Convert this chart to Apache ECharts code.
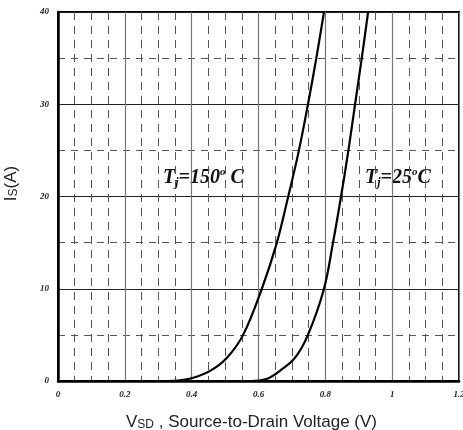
<!DOCTYPE html>
<html>
<head>
<meta charset="utf-8">
<script src="https://cdn.jsdelivr.net/npm/echarts@6/dist/echarts.min.js"></script>
<style>
  html, body { margin: 0; padding: 0; background: #fff; }
  #chart { width: 463px; height: 430px; }
</style>
</head>
<body>
<div id="chart"></div>
<script>
// Is vs Vsd
const tj150 = [
  [0.33, 0], [0.36, 0.05], [0.40, 0.3], [0.455, 1.1], [0.505, 2.5], [0.554, 5],
  [0.61, 10], [0.655, 15], [0.689, 20], [0.721, 25], [0.748, 30], [0.773, 35], [0.796, 40]
];
const tj25 = [
  [0.58, 0], [0.60, 0.05], [0.63, 0.3], [0.664, 1.1], [0.709, 2.5], [0.748, 5],
  [0.796, 10], [0.823, 15], [0.847, 20], [0.869, 25], [0.889, 30], [0.909, 35], [0.928, 40]
];
const xTicks = ['0', '0.2', '0.4', '0.6', '0.8', '1', '1.2'];
const yTicks = ['0', '10', '20', '30', '40'];

const chart = echarts.init(document.getElementById('chart'));

const tickFont = {
  fontFamily: 'Liberation Serif',
  fontStyle: 'italic',
  fontWeight: 'bold',
  fontSize: 9,
  color: '#222'
};

const labelRich = {
  b: { fontFamily: 'Liberation Serif', fontStyle: 'italic', fontWeight: 'bold', fontSize: 20, fill: '#111' },
  sub: { fontFamily: 'Liberation Serif', fontStyle: 'italic', fontWeight: 'bold', fontSize: 12, fill: '#111', padding: [10, 0, 0, 0] },
  sup: { fontFamily: 'Liberation Serif', fontStyle: 'italic', fontWeight: 'bold', fontSize: 11, fill: '#111', padding: [0, 0, 10, 0] }
};

const option = {
  backgroundColor: '#fff',
  animation: false,
  grid: {
    left: 58,
    top: 12,
    right: 4,
    bottom: 49,
    containLabel: false,
    outerBoundsMode: 'none',
    show: true,
    borderColor: '#000',
    borderWidth: 2
  },
  xAxis: {
    type: 'value',
    min: 0,
    max: 1.2,
    interval: 0.2,
    name: '{v|V}{s|SD}{v| , Source-to-Drain Voltage (V)}',
    nameLocation: 'middle',
    nameGap: 33,
    nameTextStyle: {
      padding: [0, 14, 0, 0],
      rich: {
        v: { fontFamily: 'Liberation Sans', fontSize: 17, color: '#222' },
        s: { fontFamily: 'Liberation Sans', fontSize: 12, color: '#222', padding: [4, 0, 0, 0] }
      }
    },
    axisLine: { show: true, onZero: false, lineStyle: { color: '#000', width: 2.5 } },
    axisTick: { show: false },
    axisLabel: Object.assign({ margin: 9, formatter: (v) => xTicks[Math.round(v / 0.2)] }, tickFont),
    splitLine: { show: true, lineStyle: { color: '#777', width: 1.2 } },
    minorTick: { show: false, splitNumber: 4 },
    minorSplitLine: { show: true, lineStyle: { color: '#555', width: 1, type: [8, 6] } }
  },
  yAxis: {
    type: 'value',
    min: 0,
    max: 40,
    interval: 10,
    name: '{v|I}{s|S}{v|(A)}',
    nameLocation: 'middle',
    nameGap: 38,
    nameRotate: 90,
    nameTextStyle: {
      padding: [0, 0, 0, 26],
      rich: {
        v: { fontFamily: 'Liberation Sans', fontSize: 17, color: '#222' },
        s: { fontFamily: 'Liberation Sans', fontSize: 12, color: '#222', padding: [4, 0, 0, 0] }
      }
    },
    axisLine: { show: true, onZero: false, lineStyle: { color: '#000', width: 2.5 } },
    axisTick: { show: false },
    axisLabel: Object.assign({ margin: 9, formatter: (v) => yTicks[Math.round(v / 10)] }, tickFont),
    splitLine: { show: true, lineStyle: { color: '#222', width: 1 } },
    minorTick: { show: false, splitNumber: 2 },
    minorSplitLine: { show: true, lineStyle: { color: '#555', width: 1, type: [7, 6] } }
  },
  series: [
    {
      name: 'Tj=150C',
      type: 'line',
      data: tj150,
      smooth: 0.35,
      showSymbol: false,
      lineStyle: { color: '#000', width: 2.2 }
    },
    {
      name: 'Tj=25C',
      type: 'line',
      data: tj25,
      smooth: 0.35,
      showSymbol: false,
      lineStyle: { color: '#000', width: 2.2 }
    }
  ],
  graphic: [
    {
      type: 'text',
      left: 163,
      top: 167,
      style: { text: '{b|T}{sub|j}{b|=150}{sup|o}{b| C}', rich: labelRich }
    },
    {
      type: 'text',
      left: 365,
      top: 167,
      style: { text: '{b|T}{sub|j}{b|=25}{sup|o}{b|C}', rich: labelRich }
    }
  ]
};

chart.setOption(option);
</script>
</body>
</html>
